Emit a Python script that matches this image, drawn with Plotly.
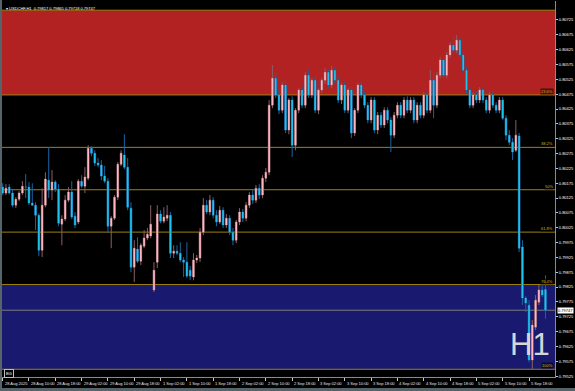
import plotly.graph_objects as go

# ---------------- data (USDCHF H1) ----------------
opens = [0.80162,0.80142,0.80162,0.80142,0.80101,0.80121,0.80142,0.80162,0.80162,0.80108,
         0.80101,0.80067,0.79949,0.80101,0.80185,0.80152,0.80179,0.80155,0.80037,0.80054,
         0.80118,0.80145,0.80064,0.80044,0.80182,0.80165,0.80192,0.80293,0.80276,0.80243,
         0.80236,0.80199,0.80182,0.80030,0.80057,0.80128,0.80239,0.80270,0.80229,0.80091,
         0.79892,0.79953,0.79912,0.79963,0.79990,0.79997,0.79815,0.79909,0.80071,0.80047,
         0.80057,0.80067,0.79939,0.79946,0.79939,0.79916,0.79909,0.79882,0.79859,0.79916,
         0.79923,0.80010,0.80101,0.80078,0.80118,0.80067,0.80044,0.80084,0.80034,0.80057,
         0.80010,0.79983,0.80044,0.80078,0.80057,0.80101,0.80135,0.80118,0.80158,0.80135,
         0.80192,0.80212,0.80438,0.80529,0.80472,0.80421,0.80506,0.80354,0.80455,0.80303,
         0.80421,0.80489,0.80438,0.80539,0.80472,0.80522,0.80421,0.80489,0.80522,0.80549,
         0.80506,0.80556,0.80522,0.80455,0.80506,0.80421,0.80489,0.80344,0.80421,0.80506,
         0.80472,0.80438,0.80388,0.80455,0.80354,0.80404,0.80371,0.80421,0.80388,0.80337,
         0.80404,0.80438,0.80404,0.80455,0.80421,0.80455,0.80388,0.80438,0.80404,0.80472,
         0.80421,0.80522,0.80438,0.80539,0.80590,0.80539,0.80607,0.80640,0.80623,0.80657,
         0.80607,0.80556,0.80489,0.80438,0.80472,0.80455,0.80489,0.80455,0.80421,0.80472,
         0.80438,0.80421,0.80455,0.80394,0.80337,0.80313,0.80286,0.80334,0.79960,0.79788,
         0.79764,0.79579,0.79690,0.79774,0.79815,0.79817]
highs = [0.80175,0.80172,0.80172,0.80152,0.80128,0.80148,0.80182,0.80206,0.80179,0.80175,
         0.80111,0.80074,0.80158,0.80212,0.80297,0.80219,0.80185,0.80172,0.80067,0.80135,
         0.80162,0.80182,0.80078,0.80189,0.80202,0.80229,0.80303,0.80300,0.80286,0.80260,
         0.80253,0.80233,0.80192,0.80064,0.80135,0.80246,0.80286,0.80340,0.80260,0.80111,
         0.79983,0.79993,0.79973,0.80017,0.80024,0.80101,0.79909,0.80101,0.80084,0.80094,
         0.80101,0.80078,0.79966,0.79966,0.79976,0.79926,0.79976,0.79896,0.79939,0.79933,
         0.80024,0.80125,0.80118,0.80135,0.80128,0.80084,0.80098,0.80094,0.80071,0.80067,
         0.80024,0.80051,0.80091,0.80088,0.80111,0.80145,0.80152,0.80169,0.80172,0.80202,
         0.80226,0.80455,0.80573,0.80549,0.80489,0.80516,0.80522,0.80462,0.80468,0.80428,
         0.80495,0.80502,0.80549,0.80556,0.80529,0.80536,0.80495,0.80529,0.80563,0.80559,
         0.80570,0.80566,0.80533,0.80512,0.80516,0.80495,0.80502,0.80428,0.80512,0.80516,
         0.80482,0.80448,0.80465,0.80465,0.80415,0.80415,0.80431,0.80431,0.80398,0.80415,
         0.80448,0.80448,0.80465,0.80468,0.80465,0.80465,0.80448,0.80448,0.80482,0.80482,
         0.80556,0.80549,0.80549,0.80600,0.80600,0.80617,0.80650,0.80667,0.80674,0.80664,
         0.80617,0.80566,0.80499,0.80482,0.80482,0.80499,0.80499,0.80465,0.80482,0.80482,
         0.80448,0.80465,0.80465,0.80404,0.80354,0.80327,0.80388,0.80344,0.79983,0.79794,
         0.79781,0.79714,0.79798,0.79832,0.79835,0.79865]
lows  = [0.80135,0.80135,0.80138,0.80094,0.80091,0.80115,0.80135,0.80125,0.80101,0.80098,
         0.80017,0.79929,0.79926,0.80094,0.80125,0.80118,0.80145,0.80030,0.79966,0.80047,
         0.80111,0.80054,0.80024,0.80037,0.80158,0.80142,0.80185,0.80266,0.80233,0.80229,
         0.80185,0.80175,0.80007,0.79956,0.80051,0.80118,0.80233,0.80222,0.80084,0.79875,
         0.79842,0.79906,0.79899,0.79956,0.79983,0.79990,0.79808,0.79889,0.80040,0.80040,
         0.80047,0.79923,0.79923,0.79933,0.79909,0.79859,0.79855,0.79848,0.79848,0.79906,
         0.79909,0.80000,0.80071,0.80067,0.80057,0.80030,0.80037,0.80024,0.80024,0.80000,
         0.79966,0.79973,0.80034,0.80044,0.80047,0.80091,0.80105,0.80108,0.80121,0.80125,
         0.80179,0.80202,0.80428,0.80462,0.80408,0.80411,0.80344,0.80340,0.80263,0.80286,
         0.80411,0.80428,0.80428,0.80462,0.80462,0.80411,0.80408,0.80479,0.80509,0.80495,
         0.80495,0.80512,0.80445,0.80442,0.80411,0.80411,0.80327,0.80334,0.80411,0.80462,
         0.80428,0.80377,0.80377,0.80344,0.80340,0.80361,0.80361,0.80377,0.80280,0.80327,
         0.80394,0.80394,0.80394,0.80411,0.80411,0.80377,0.80377,0.80394,0.80394,0.80411,
         0.80411,0.80394,0.80428,0.80529,0.80529,0.80529,0.80597,0.80613,0.80613,0.80597,
         0.80546,0.80479,0.80428,0.80428,0.80445,0.80445,0.80445,0.80411,0.80411,0.80428,
         0.80411,0.80411,0.80388,0.80320,0.80303,0.80253,0.80280,0.79943,0.79764,0.79741,
         0.79572,0.79548,0.79680,0.79764,0.79791,0.79718]
closes = [0.80142,0.80158,0.80142,0.80101,0.80121,0.80142,0.80165,0.80162,0.80108,0.80101,
          0.80067,0.79949,0.80101,0.80189,0.80152,0.80179,0.80155,0.80040,0.80054,0.80118,
          0.80145,0.80061,0.80034,0.80182,0.80165,0.80196,0.80293,0.80276,0.80243,0.80236,
          0.80199,0.80182,0.80030,0.80057,0.80128,0.80239,0.80276,0.80229,0.80094,0.79892,
          0.79956,0.79912,0.79966,0.79990,0.80003,0.80037,0.79882,0.80071,0.80047,0.80061,
          0.80067,0.79939,0.79946,0.79939,0.79916,0.79909,0.79862,0.79862,0.79916,0.79923,
          0.80010,0.80101,0.80078,0.80118,0.80067,0.80044,0.80084,0.80034,0.80057,0.80010,
          0.79983,0.80044,0.80078,0.80057,0.80101,0.80135,0.80118,0.80158,0.80135,0.80192,
          0.80212,0.80438,0.80529,0.80472,0.80421,0.80506,0.80354,0.80455,0.80303,0.80421,
          0.80489,0.80438,0.80539,0.80472,0.80522,0.80421,0.80489,0.80522,0.80549,0.80506,
          0.80556,0.80522,0.80455,0.80506,0.80421,0.80489,0.80344,0.80421,0.80506,0.80472,
          0.80438,0.80388,0.80455,0.80354,0.80404,0.80371,0.80421,0.80388,0.80337,0.80404,
          0.80438,0.80404,0.80455,0.80421,0.80455,0.80388,0.80438,0.80404,0.80472,0.80421,
          0.80522,0.80438,0.80539,0.80590,0.80539,0.80607,0.80640,0.80623,0.80657,0.80607,
          0.80556,0.80489,0.80438,0.80472,0.80455,0.80489,0.80455,0.80421,0.80472,0.80438,
          0.80421,0.80455,0.80394,0.80337,0.80313,0.80280,0.80337,0.79956,0.79788,0.79771,
          0.79579,0.79697,0.79781,0.79815,0.79798,0.79747]

bars = list(range(len(opens)))

time_tick_bars = [0, 8, 16, 24, 32, 40, 48, 56, 64, 72, 80, 88, 96, 104, 112, 120, 128, 136, 144, 152, 160]
time_tick_labels = ["28 Aug 2025", "28 Aug 10:00", "28 Aug 18:00", "29 Aug 02:00", "29 Aug 10:00",
                    "29 Aug 18:00", "1 Sep 02:00", "1 Sep 10:00", "1 Sep 18:00", "2 Sep 02:00",
                    "2 Sep 10:00", "2 Sep 18:00", "3 Sep 02:00", "3 Sep 10:00", "3 Sep 18:00",
                    "4 Sep 02:00", "4 Sep 10:00", "4 Sep 18:00", "5 Sep 02:00", "5 Sep 10:00",
                    "5 Sep 18:00"]
price_ticks = [0.79525, 0.79575, 0.79625, 0.79675, 0.79725, 0.79775, 0.79825, 0.79875, 0.79925,
               0.79975, 0.80025, 0.80075, 0.80125, 0.80175, 0.80225, 0.80275, 0.80325, 0.80375,
               0.80425, 0.80475, 0.80525, 0.80575, 0.80625, 0.80675, 0.80725]

fib_high = 0.80758
fib_low = 0.79548
fib_ratios = [23.6, 38.2, 50.0, 61.8, 76.4, 100.0]
fib_labels = ["23.6%", "38.2%", "50%", "61.8%", "76.4%", "100%"]
last_price = 0.79747
title_text = "USDCHF,H1  0.79817 0.79865 0.79718 0.79747"

# ---------------- styling ----------------
FONT = "Liberation Sans"
BULL = "#ffb6c1"
BEAR = "#1ec3ef"
BULL_WICK = "#8a5e66"
BEAR_WICK = "#1a64a0"
FIB = "#9c8212"
FIB_TXT = "#d8b400"

def fib_price(r):
    return fib_high - (fib_high - fib_low) * r / 100.0

fig = go.Figure()

# wicks
fig.add_trace(go.Candlestick(
    x=bars, open=opens, high=highs, low=lows, close=closes,
    increasing=dict(line=dict(color=BULL_WICK, width=1), fillcolor=BULL_WICK),
    decreasing=dict(line=dict(color=BEAR_WICK, width=1), fillcolor=BEAR_WICK),
    whiskerwidth=0, showlegend=False, hoverinfo="skip"))
# bodies
fig.add_trace(go.Candlestick(
    x=bars, open=opens, high=highs, low=lows, close=closes,
    increasing=dict(line=dict(color=BULL, width=0), fillcolor=BULL),
    decreasing=dict(line=dict(color=BEAR, width=0), fillcolor=BEAR),
    whiskerwidth=0, showlegend=False))

shapes = []
# zones
shapes.append(dict(type="rect", xref="paper", yref="y", x0=0, x1=1,
                   y0=fib_price(23.6), y1=fib_price(0), fillcolor="#b22222",
                   line=dict(width=0), layer="below"))
shapes.append(dict(type="rect", xref="paper", yref="y", x0=0, x1=1,
                   y0=fib_price(100), y1=fib_price(76.4), fillcolor="#191970",
                   line=dict(width=0), layer="below"))
# fib lines
for r in [0] + fib_ratios:
    shapes.append(dict(type="line", xref="paper", yref="y", x0=0, x1=1,
                       y0=fib_price(r), y1=fib_price(r),
                       line=dict(color=FIB, width=1), layer="below"))
# last price line
shapes.append(dict(type="line", xref="paper", yref="y", x0=0, x1=1,
                   y0=last_price, y1=last_price,
                   line=dict(color="#7a7a7a", width=1), layer="below"))
# window frame strips
shapes.append(dict(type="rect", xref="paper", yref="paper", x0=-0.004, x1=0,
                   y0=-0.04, y1=1.01, fillcolor="#55636a", line=dict(width=0), layer="above"))
shapes.append(dict(type="rect", xref="paper", yref="paper", x0=-0.01, x1=1.05,
                   y0=-0.045, y1=-0.0295, fillcolor="#55636a", line=dict(width=0), layer="above"))

annotations = []
for r, lab in zip(fib_ratios, fib_labels):
    annotations.append(dict(x=1, xref="paper", y=fib_price(r), yref="y", text=lab,
                            xanchor="right", yanchor="bottom", showarrow=False,
                            font=dict(family=FONT, size=4, color=FIB_TXT),
                            bgcolor="rgba(0,0,0,0.55)", borderpad=0, xshift=-1))
for b, lab in zip(time_tick_bars, time_tick_labels):
    annotations.append(dict(x=b, xref="x", y=0, yref="paper", text=lab,
                            xanchor="left", yanchor="top", showarrow=False, xshift=0, yshift=-2,
                            font=dict(family=FONT, size=4, color="#e8e8e8")))
annotations.append(dict(x=1, xref="paper", y=last_price, yref="y", text="0.79747",
                        xanchor="left", yanchor="middle", showarrow=False, xshift=2,
                        bgcolor="#ffffff", borderpad=0,
                        font=dict(family=FONT, size=4, color="#000000")))
annotations.append(dict(x=0.955, xref="paper", y=0.0385, yref="paper", text="H1",
                        xanchor="center", yanchor="bottom", showarrow=False,
                        borderpad=0,
                        font=dict(family=FONT, size=31, color="#d6d6d6")))
annotations.append(dict(x=0.003, xref="paper", y=0.0106, yref="paper", text="BG",
                        xanchor="left", yanchor="middle", showarrow=False,
                        bgcolor="#000000", bordercolor="#bdbdbd", borderwidth=1, borderpad=1,
                        font=dict(family=FONT, size=4, color="#ffffff")))
annotations.append(dict(x=0.004, xref="paper", y=0.979, yref="paper", text="▾ " + title_text,
                        xanchor="left", yanchor="middle", showarrow=False,
                        font=dict(family=FONT, size=4, color="#ffffff")))

fig.update_layout(
    width=575, height=391,
    margin=dict(l=2, r=20, t=1, b=14),
    paper_bgcolor="#000000", plot_bgcolor="#000000",
    font=dict(family=FONT, size=4, color="#ffffff"),
    shapes=shapes, annotations=annotations,
    showlegend=False, hovermode=False,
    xaxis=dict(range=[-0.2, 167.9], rangeslider=dict(visible=False),
               showgrid=False, zeroline=False, showticklabels=False,
               tickmode="array", tickvals=time_tick_bars, ticks="outside",
               ticklen=3, tickcolor="#c8c8c8", tickwidth=1,
               showline=True, linecolor="#8a8a8a", linewidth=1),
    yaxis=dict(range=[0.79522, 0.80789], side="right", showgrid=False, zeroline=False,
               tickmode="array", tickvals=price_ticks,
               ticktext=["%.5f" % p for p in price_ticks],
               ticks="outside", ticklen=2, tickcolor="#c8c8c8",
               tickfont=dict(family=FONT, size=4, color="#ffffff"),
               showline=True, linecolor="#8a8a8a", linewidth=1),
)

fig.write_html("out.html")
